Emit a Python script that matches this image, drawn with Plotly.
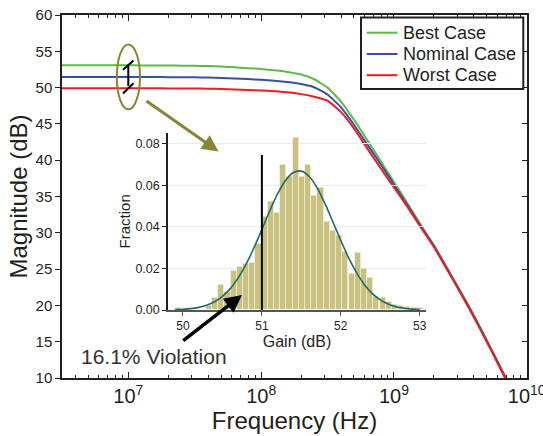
import plotly.graph_objects as go

# ---------------- data ----------------
freq_hz = [3.16e6, 3.98e6, 5.01e6, 6.31e6, 7.94e6, 1.0e7, 1.26e7, 1.58e7, 2.0e7,
           2.51e7, 3.16e7, 3.98e7, 5.01e7, 6.31e7, 7.94e7, 1.0e8, 1.26e8, 1.58e8,
           2.0e8, 2.51e8, 3.16e8, 3.98e8, 5.01e8, 6.31e8, 7.94e8, 1.0e9, 1.26e9,
           1.58e9, 2.0e9, 2.51e9, 3.16e9, 3.98e9, 5.01e9, 6.31e9, 7.94e9]
best_case = [53.08, 53.08, 53.08, 53.08, 53.07, 53.07, 53.06, 53.05, 53.04,
             53.02, 53.0, 52.96, 52.9, 52.8, 52.68, 52.55, 52.38, 52.15,
             51.8, 51.15, 50.0, 48.1, 45.55, 42.75, 39.9, 37.0, 34.1,
             31.2, 28.3, 25.2, 22.0, 18.7, 15.2, 11.6, 8.0]
nominal_case = [51.47, 51.47, 51.47, 51.47, 51.47, 51.46, 51.46, 51.45, 51.44,
                51.43, 51.41, 51.38, 51.33, 51.26, 51.17, 51.07, 50.95, 50.78,
                50.5, 50.05, 49.05, 47.3, 44.85, 42.15, 39.45, 36.65, 33.85,
                31.0, 28.18, 25.08, 21.88, 18.58, 15.08, 11.48, 7.88]
worst_case = [49.92, 49.92, 49.92, 49.92, 49.92, 49.91, 49.91, 49.9, 49.89,
              49.89, 49.88, 49.85, 49.8, 49.75, 49.68, 49.6, 49.5, 49.35,
              49.1, 48.75, 48.2, 46.65, 44.35, 41.6, 38.9, 36.25, 33.6,
              30.85, 28.05, 24.95, 21.75, 18.45, 14.95, 11.35, 7.75]
series_names = ["Best Case", "Nominal Case", "Worst Case"]

gain_bin_centers = [49.936, 50.015, 50.093, 50.172, 50.250, 50.329, 50.408, 50.486,
                    50.565, 50.643, 50.722, 50.801, 50.879, 50.958, 51.036, 51.115,
                    51.194, 51.272, 51.351, 51.429, 51.508, 51.587, 51.665, 51.744,
                    51.822, 51.901, 51.980, 52.058, 52.137, 52.215, 52.294, 52.373,
                    52.451, 52.530, 52.608, 52.687, 52.766, 52.844, 52.923, 53.001]
gain_bin_width = 0.0786
gain_fraction = [0.001, 0, 0, 0, 0, 0.002, 0.006, 0.0123,
                 0.009, 0.019, 0.021, 0.0225, 0.023, 0.032, 0.045, 0.052,
                 0.047, 0.070, 0.064, 0.083, 0.064, 0.070, 0.055, 0.059,
                 0.0425, 0.038, 0.036, 0.028, 0.0175, 0.0275, 0.020, 0.0155,
                 0.0065, 0.006, 0.004, 0.0025, 0.002, 0.0015, 0.001, 0.001]

fit_gain = [49.9, 50.0, 50.1, 50.2, 50.3, 50.4, 50.5, 50.6, 50.7, 50.8, 50.9,
            51.0, 51.1, 51.2, 51.3, 51.4, 51.5, 51.6, 51.7, 51.8, 51.9, 52.0,
            52.1, 52.2, 52.3, 52.4, 52.5, 52.6, 52.7, 52.8, 52.9, 53.0]
fit_fraction = [0.00015, 0.00032, 0.00065, 0.00125, 0.00228, 0.00396, 0.00657,
                0.0103, 0.0155, 0.0221, 0.0300, 0.0388, 0.0478, 0.0560, 0.0624,
                0.0662, 0.0669, 0.0643, 0.0588, 0.0512, 0.0424, 0.0335, 0.0251,
                0.0180, 0.0122, 0.0079, 0.0049, 0.0029, 0.0016, 0.00085,
                0.00043, 0.0002]

spec_gain = [51.0, 51.0]
spec_line = [0.0, 0.0747]
violation_text = "16.1% Violation"

# ---------------- layout helpers (pixel -> paper) ----------------
W, H = 543, 436
ML, MR, MT, MB = 62, 16, 15, 58
PW, PH = W - ML - MR, H - MT - MB


def px(x):
    return (x - ML) / PW


def py(y):
    return 1 - (y - MT) / PH


FONT = "Liberation Sans, Arial, sans-serif"
TXT = "#231f20"
colors = ["#5dbb46", "#3651a4", "#ed1c24"]

fig = go.Figure()
for name, vals, col in zip(series_names, [best_case, nominal_case, worst_case], colors):
    fig.add_trace(go.Scatter(x=freq_hz, y=vals, mode="lines", name=name,
                             line=dict(color=col, width=2, shape="spline", smoothing=0.4),
                             xaxis="x", yaxis="y", hoverinfo="skip", showlegend=False))

# carrier (no visible data) so the right-hand tick axis is drawn
fig.add_trace(go.Scatter(x=[freq_hz[0]], y=[None], mode="lines", xaxis="x", yaxis="y3",
                         showlegend=False, hoverinfo="skip"))

fig.add_trace(go.Bar(x=gain_bin_centers, y=gain_fraction, width=gain_bin_width,
                     marker=dict(color="#c9c180", line=dict(color="rgba(255,255,255,0.55)", width=0.8)),
                     xaxis="x2", yaxis="y2", showlegend=False, hoverinfo="skip"))
fig.add_trace(go.Scatter(x=fit_gain, y=fit_fraction, mode="lines",
                         line=dict(color="#1f6b68", width=1.6, shape="spline"),
                         xaxis="x2", yaxis="y2", showlegend=False, hoverinfo="skip"))
fig.add_trace(go.Scatter(x=spec_gain, y=spec_line, mode="lines",
                         line=dict(color="black", width=2),
                         xaxis="x2", yaxis="y2", showlegend=False, hoverinfo="skip"))

shapes = [
    dict(type="circle", xref="paper", yref="paper",
         x0=px(116.8), x1=px(140), y0=py(109.3), y1=py(44.5),
         line=dict(color="#868638", width=2)),
    dict(type="line", xref="paper", yref="paper",
         x0=px(128.3), x1=px(128.3), y0=py(66), y1=py(86),
         line=dict(color="black", width=2)),
    dict(type="line", xref="paper", yref="paper",
         x0=px(123), x1=px(133.5), y0=py(69.8), y1=py(60.5),
         line=dict(color="black", width=2)),
    dict(type="line", xref="paper", yref="paper",
         x0=px(123), x1=px(133.5), y0=py(93.5), y1=py(83.3),
         line=dict(color="black", width=2)),
    # legend box
    dict(type="rect", xref="paper", yref="paper",
         x0=px(361), x1=px(523.3), y0=py(89), y1=py(17.5),
         fillcolor="white", line=dict(color=TXT, width=2), layer="above"),
]

annotations = [
    dict(x=px(218.5), y=py(151.5), xref="paper", yref="paper",
         ax=145 - 218.5, ay=100 - 151.5, axref="pixel", ayref="pixel",
         showarrow=True, arrowhead=2, arrowsize=1.1, arrowwidth=3,
         arrowcolor="#868638", text="", standoff=0),
    dict(x=px(242), y=py(295), xref="paper", yref="paper",
         ax=181.7 - 242, ay=341.7 - 295, showarrow=True, arrowhead=2,
         arrowsize=1.0, arrowwidth=3.5, arrowcolor="black", text="", standoff=0),
    dict(x=px(79), y=py(356.5), xref="paper", yref="paper", xanchor="left",
         yanchor="middle", showarrow=False, text=violation_text,
         font=dict(family=FONT, size=21, color="#333333")),
]

# manual legend entries (sample line + label)
legend_rows = [32.7, 54, 75.2]
for name, col, ry in zip(series_names, colors, legend_rows):
    shapes.append(dict(type="line", xref="paper", yref="paper",
                       x0=px(366.7), x1=px(397.5), y0=py(ry), y1=py(ry),
                       line=dict(color=col, width=2), layer="above"))
    annotations.append(dict(x=px(401.2), y=py(ry), xref="paper", yref="paper",
                            xanchor="left", yanchor="middle", showarrow=False,
                            text=name, font=dict(family=FONT, size=18, color=TXT)))

fig.update_layout(
    width=W, height=H,
    margin=dict(l=ML, r=MR, t=MT, b=MB),
    paper_bgcolor="white", plot_bgcolor="rgba(0,0,0,0)",
    font=dict(family=FONT, color=TXT),
    showlegend=False,
    xaxis=dict(type="log", range=[6.5, 10.002], dtick=1, exponentformat="power",
               showline=True, linecolor=TXT, linewidth=1.5, mirror="ticks",
               ticks="inside", ticklen=6, tickcolor=TXT, tickwidth=1,
               minor=dict(ticks="inside", ticklen=3, tickcolor=TXT, tickwidth=1),
               showgrid=False, zeroline=False, automargin=False,
               ticklabeloverflow="allow",
               tickfont=dict(size=16, color=TXT),
               title=dict(text="Frequency (Hz)", font=dict(size=24, color=TXT), standoff=0),
               domain=[0, 1], anchor="y"),
    yaxis=dict(range=[10, 60], dtick=5, showline=True, linecolor=TXT, linewidth=1.5,
               mirror=True, ticks="outside", ticklen=5, tickcolor=TXT,
               showgrid=False, zeroline=False, automargin=False,
               tickfont=dict(size=15, color=TXT),
               title=dict(text="Magnitude (dB)", font=dict(size=24, color=TXT), standoff=1),
               domain=[0, 1], anchor="x"),
    yaxis3=dict(range=[10, 60], dtick=5, overlaying="y", side="right", anchor="x",
                ticks="inside", ticklen=5, tickcolor=TXT, showticklabels=False,
                showline=False, showgrid=False, zeroline=False, automargin=False),
    xaxis2=dict(domain=[px(168), px(426)], anchor="y2", range=[49.81, 53.08],
                tickvals=[50, 51, 52, 53], ticktext=["50", "51", "52", "53"],
                ticks="outside", ticklen=4, tickcolor="#555555",
                showline=True, linecolor="#555555", linewidth=2,
                showgrid=False, zeroline=False, automargin=False,
                tickfont=dict(size=12, color=TXT),
                title=dict(text="Gain (dB)", font=dict(size=16, color=TXT), standoff=3)),
    yaxis2=dict(domain=[py(310), py(132.7)], anchor="x2", range=[0, 0.0854],
                tickvals=[0, 0.02, 0.04, 0.06, 0.08], tickformat=".2f",
                ticks="outside", ticklen=4, tickcolor=TXT,
                showline=True, linecolor=TXT, linewidth=1.5,
                showgrid=True, gridcolor="#e3eef1", gridwidth=1, zeroline=False,
                automargin=False,
                tickfont=dict(size=12.5, color=TXT),
                title=dict(text="Fraction", font=dict(size=15, color=TXT), standoff=1)),
    bargap=0,
    shapes=shapes,
    annotations=annotations,
)

fig.write_html("out.html", config={"displayModeBar": False},
               post_script="document.body.style.margin='0';document.body.style.padding='0';")
